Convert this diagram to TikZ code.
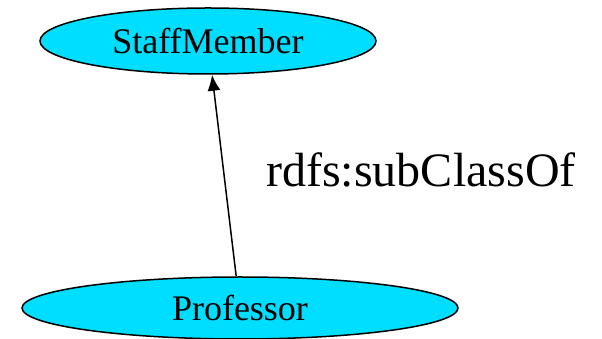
\documentclass[tikz,border=0pt]{standalone}
\usepackage{fontspec}
\setmainfont{Liberation Serif}
\usetikzlibrary{shapes.geometric,arrows.meta}
\definecolor{clscyan}{RGB}{0,222,255}
\begin{document}
\begin{tikzpicture}[x=1pt,y=1pt]
    \useasboundingbox (0,0) rectangle (602,339);

    \tikzstyle{cls}=[ellipse,draw=black,line width=1.5pt,fill=clscyan,inner sep=0pt,font=\fontsize{36}{40}\selectfont]
    \tikzstyle{rel}=[font=\fontsize{48}{52}\selectfont,inner sep=0pt]

    \node[cls,minimum width=336pt,minimum height=66pt]  (staff) at (208,298) {StaffMember};
    \node[cls,minimum width=436pt,minimum height=62pt]  (prof) at (240,31) {Professor};

    \node[rel]  (sub) at (421,169) {rdfs:subClassOf};

    \tikzstyle{fwd} = [draw=black, line width=1.5pt, -{Latex[length=16pt,width=13pt]}]

          \draw [fwd] (prof) -- (staff);

  \end{tikzpicture}
\end{document}
